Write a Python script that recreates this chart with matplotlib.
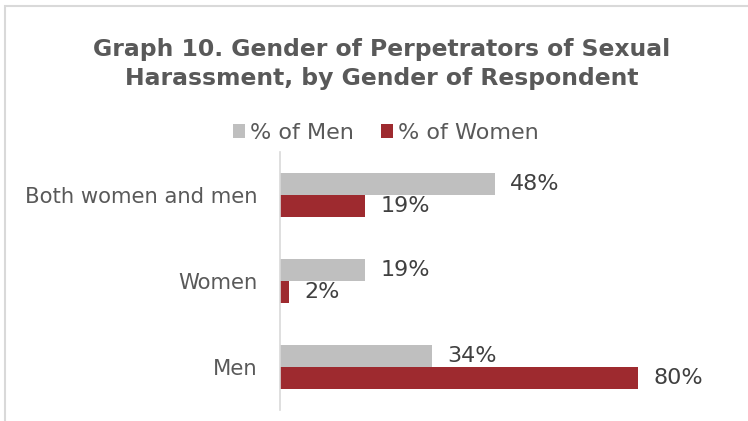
import matplotlib.pyplot as plt
import numpy as np
from matplotlib.patches import Rectangle

categories = ['Men', 'Women', 'Both women and men']
pct_men = [34, 19, 48]
pct_women = [80, 2, 19]
title = 'Graph 10. Gender of Perpetrators of Sexual\nHarassment, by Gender of Respondent'

W, H = 748, 421
fig = plt.figure(figsize=(W / 100, H / 100), dpi=100)

# light chart frame (only left and top edges visible in the crop)
fig.patches.append(Rectangle((5 / W, -0.1), 1.2, 1 - 6 / H + 0.1, transform=fig.transFigure,
                             fill=False, edgecolor='#d9d9d9', linewidth=1.5))

ax = fig.add_axes([280 / W, 1 - 410 / H, 448 / W, 258 / H])
y = np.arange(len(categories))
h = 0.256
bars_m = ax.barh(y + h / 2, pct_men, height=h, color='#bfbfbf', label='% of Men')
bars_w = ax.barh(y - h / 2, pct_women, height=h, color='#9e2a2f', label='% of Women')

for bars in (bars_m, bars_w):
    for b in bars:
        ax.annotate(f'{b.get_width():.0f}%', (b.get_width(), b.get_y() + b.get_height() / 2),
                    xytext=(11, 0), textcoords='offset points', ha='left', va='center',
                    fontsize=16, color='#404040')

ax.set_xlim(0, 100)
ax.set_ylim(-0.5, 2.5)
ax.set_xticks([])
ax.set_yticks(y, categories)
ax.tick_params(axis='y', length=0, pad=16, labelsize=15.2, labelcolor='#595959')
for s in ('top', 'right', 'bottom'):
    ax.spines[s].set_visible(False)
ax.spines['left'].set_color('#d9d9d9')
ax.spines['left'].set_linewidth(1.2)

fig.text(382 / W, 1 - 64 / H, title, ha='center', va='center', fontsize=16.9,
         fontweight='bold', color='#595959', linespacing=1.33)

fig.legend(handles=[bars_m, bars_w], loc='center', bbox_to_anchor=(386 / W, 1 - 133 / H),
           ncol=2, frameon=False, fontsize=16, labelcolor='#595959',
           handlelength=0.55, handleheight=0.55, handletextpad=0.23, columnspacing=1.2)

fig.savefig('out.png', dpi=100)
